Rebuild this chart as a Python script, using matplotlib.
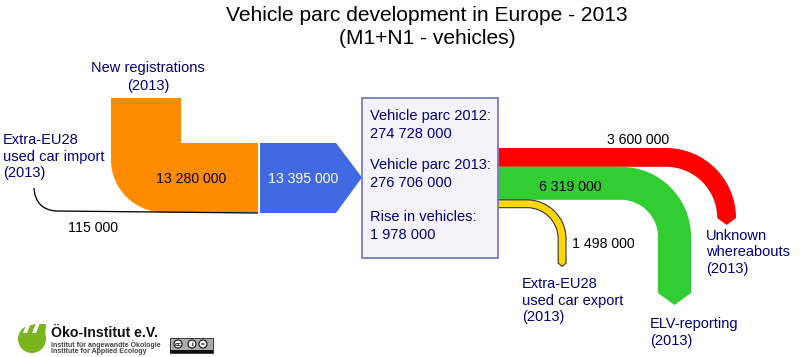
import matplotlib
matplotlib.use("Agg")
import matplotlib.pyplot as plt
from matplotlib.path import Path
from matplotlib.patches import PathPatch, Rectangle, Circle

plt.rcParams['font.family'] = ['Liberation Sans', 'DejaVu Sans']

# Vehicle flows
total_in = 13395000
new_registrations = 13280000
used_import = 115000
unknown = 3600000
elv = 6319000
used_export = 1498000
flow_labels = ['13 280 000', '13 395 000', '115 000', '3 600 000', '6 319 000', '1 498 000']
box_lines = ['Vehicle parc 2012:\n274 728 000', 'Vehicle parc 2013:\n276 706 000', 'Rise in vehicles:\n1 978 000']

K = 70 / total_in  # pixels per vehicle
NAVY = '#000080'

fig = plt.figure(figsize=(8.02, 3.57), dpi=100, facecolor='white')
ax = fig.add_axes([0, 0, 1, 1])
ax.set_xlim(0, 802)
ax.set_ylim(357, 0)
ax.axis('off')

M, C, L, Z = Path.MOVETO, Path.CURVE4, Path.LINETO, Path.CLOSEPOLY


def shape(parts, color, ec='none', lw=0, z=2):
    verts, codes = [], []
    for c, *pts in parts:
        verts += pts
        codes += [c] * len(pts)
    ax.add_patch(PathPatch(Path(verts, codes), fc=color, ec=ec, lw=lw, zorder=z))


def down_flow(y0, value, x_bend, xo, y_end, tip, color, ec='none', lw=0):
    """Horizontal band leaving the box, turning down through a quarter circle."""
    w = value * K
    y1 = y0 + w
    xi = xo - w
    mid = (xo + xi) / 2
    ro = xo - x_bend
    ri = xi - x_bend
    y_bend = y0 + ro
    k = 0.5523
    shape([
        (M, (498, y0)),
        (L, (x_bend, y0)),
        (C, (x_bend + k * ro, y0), (xo, y_bend - k * ro), (xo, y_bend)),
        (L, (xo, y_end)),
        (L, (mid, y_end + tip)),
        (L, (xi, y_end)),
        (L, (xi, y_bend)),
        (C, (xi, y_bend - k * ri), (x_bend + k * ri, y1), (x_bend, y1)),
        (L, (498, y1)),
        (Z, (498, y0)),
    ], color, ec, lw)


# Incoming: orange bend
top, bot = 143, 143 + new_registrations * K
shape([
    (M, (111, 98)), (L, (181, 98)), (L, (181, top)), (L, (258, top)),
    (L, (258, bot)), (L, (164, bot)),
    (C, (135, bot), (111, 189), (111, 160)),
    (Z, (111, 98)),
], '#ff8c00')

# Blue arrow
shape([(M, (260, 143)), (L, (336, 143)), (L, (362, 177.5)), (L, (336, 213)),
       (L, (260, 213)), (Z, (260, 143))], '#4169e1')

# Thin import line
lw_px = max(used_import * K, 1.3)
shape([(M, (34, 188)), (C, (35, 203), (43, 210), (56, 211)), (L, (258, 213)), (L, (258, 213))],
      'none', ec='black', lw=lw_px * 0.72, z=3)

# Outflows
y_red = 148
down_flow(y_red, unknown, 666, 736, 218, 7, '#ff0000')
y_green = y_red + unknown * K
down_flow(y_green, elv, 621, 691, 293, 12, '#32cd32')
y_yellow = y_green + elv * K
down_flow(y_yellow, used_export, 527, 566, 263, 3.5, '#ffd700', ec='#333333', lw=0.8)

# Central box
ax.add_patch(Rectangle((362, 98), 136, 160, fc='#f4f3fb', ec='#7b7bc0', lw=1.3, zorder=4))

FS = 10.5
ax.text(427, 27, 'Vehicle parc development in Europe - 2013\n(M1+N1 - vehicles)', fontsize=15.15,
        ha='center', va='center', color='black', linespacing=1.22)

for s, y in zip(box_lines, (125, 174, 226)):
    ax.text(370, y, s, fontsize=FS, color=NAVY, va='center', ha='left', zorder=5, linespacing=1.28)

ax.text(148, 77, 'New registrations\n(2013)', fontsize=FS, color=NAVY, ha='center', va='center', linespacing=1.28)
ax.text(3, 156.5, 'Extra-EU28\nused car import\n(2013)', fontsize=FS, color=NAVY, ha='left', va='center', linespacing=1.2)
ax.text(706, 252.5, 'Unknown\nwhereabouts\n(2013)', fontsize=FS, color=NAVY, ha='left', va='center', linespacing=1.2)
ax.text(522, 300.5, 'Extra-EU28\nused car export\n(2013)', fontsize=FS, color=NAVY, ha='left', va='center', linespacing=1.2)
ax.text(650, 332.5, 'ELV-reporting\n(2013)', fontsize=FS, color=NAVY, ha='left', va='center', linespacing=1.28)

for s, x, y, c in zip(flow_labels,
                      (191, 303, 92.5, 638, 570, 603),
                      (179, 179, 228, 140, 187, 244),
                      ('black', 'white', 'black', 'black', 'black', 'black')):
    ax.text(x, y, s, fontsize=10.2, color=c, ha='center', va='center', zorder=6)

# Logo
GREEN = '#7ab51d'
ax.add_patch(Circle((32, 339), 14, fc=GREEN, ec='none', zorder=3))
shape([(M, (33, 324)), (L, (46, 324)), (L, (45, 336)), (L, (33, 336)), (Z, (33, 324))], GREEN, z=3.05)
shape([(M, (27, 323)), (L, (31, 323)), (L, (27, 333)), (L, (23, 333)), (Z, (27, 323))], 'white', z=3.2)
shape([(M, (36, 323)), (L, (40, 323)), (L, (36, 333)), (L, (32, 333)), (Z, (36, 323))], 'white', z=3.2)
ax.text(51, 333, 'Öko-Institut e.V.', fontsize=10.2, fontweight='bold', color='#111111', ha='left', va='center')
ax.text(51, 344.5, 'Institut für angewandte Ökologie', fontsize=5.0, fontweight='bold', color='#444444', ha='left', va='center')
ax.text(51, 351.5, 'Institute for Applied Ecology', fontsize=5.0, fontweight='bold', color='#444444', ha='left', va='center')

# CC badge
ax.add_patch(Rectangle((170, 338), 43, 15, fc='#aaaaaa', ec='#222222', lw=0.6, zorder=3))
ax.add_patch(Rectangle((170, 349.5), 43, 3.5, fc='#111111', ec='none', zorder=3.1))
for x, s in zip((178, 192, 203), ('cc', 'i', '=')):
    ax.add_patch(Circle((x, 344), 4, fc='white', ec='#111111', lw=0.8, zorder=3.2))
    ax.text(x, 344, s, fontsize=4.5, fontweight='bold', ha='center', va='center', zorder=3.3)

fig.savefig('out.png', dpi=100, facecolor='white')
